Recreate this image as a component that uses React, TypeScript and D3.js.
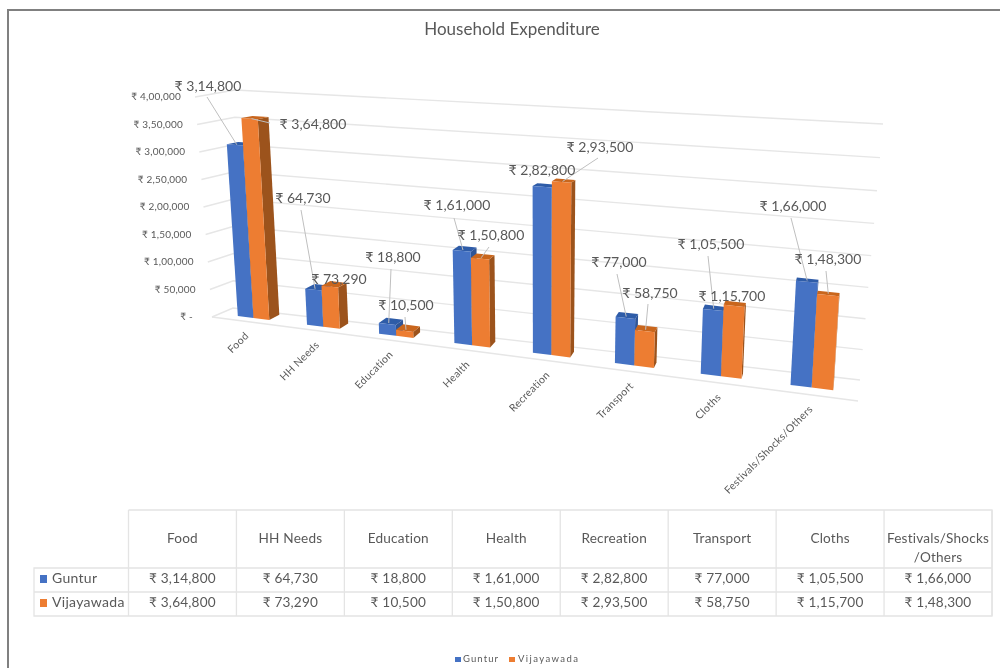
import React from "react";
import * as d3 from "d3";

const categories = ["Food", "HH Needs", "Education", "Health", "Recreation", "Transport", "Cloths", "Festivals/Shocks/Others"];
const guntur = [314800, 64730, 18800, 161000, 282800, 77000, 105500, 166000];
const vijayawada = [364800, 73290, 10500, 150800, 293500, 58750, 115700, 148300];
const guntilabels = ["₹ 3,14,800", "₹ 64,730", "₹ 18,800", "₹ 1,61,000", "₹ 2,82,800", "₹ 77,000", "₹ 1,05,500", "₹ 1,66,000"];
const vijayalabels = ["₹ 3,64,800", "₹ 73,290", "₹ 10,500", "₹ 1,50,800", "₹ 2,93,500", "₹ 58,750", "₹ 1,15,700", "₹ 1,48,300"];
const tickValues = [0, 50000, 100000, 150000, 200000, 250000, 300000, 350000, 400000];
const tickLabels = ["₹ -", "₹ 50,000", "₹ 1,00,000", "₹ 1,50,000", "₹ 2,00,000", "₹ 2,50,000", "₹ 3,00,000", "₹ 3,50,000", "₹ 4,00,000"];

// hand-placed data label layout: label centre, leader start (null = no leader)
const gunturLabelPos = [[208, 86, 207, 97], [303, 198, 301, 210], [393, 257, 391, 269], [457, 205, 454, 218], [542, 170], [619, 262, 617, 274], [711, 244, 708, 256], [793, 206, 791, 218]];
const vijayaLabelPos = [[313, 124, 270, 123], [339, 279], [406, 305, 405, 317], [491, 235, 489, 247], [600, 147, 598, 158], [650, 293, 648, 304], [732, 296], [828, 259, 826, 271]];

const BLUE = { front: "#4472c4", top: "#2f5ba8", side: "#2f5597" };
const ORANGE = { front: "#ed7d31", top: "#c9661f", side: "#9c531b" };
const FONT = "Lato, Carlito, 'Noto Sans', sans-serif";
const TEXT = "#595959";
const GRID = "#e6e6e6";
const TABLE = "#e4e4e4";

const valueNorm = d3.scaleLinear().domain([0, 400000]).range([0, 1]);
const catU = d3.scaleLinear().domain([0, categories.length]).range([0, 1]);
const tableX = d3.scaleBand<string>().domain(categories).range([128.5, 992]);
const rowY = d3.scalePoint<string>().domain(["Guntur", "Vijayawada"]).range([580, 604]);

const warp = (u: number) => (u * 0.84) / (1 - u + u * 0.84);
const lerp = (a: number, b: number, t: number) => a + (b - a) * t;

// floor point: u along the categories, d front to back
function floor(u: number, d: number): [number, number] {
  const t = warp(u);
  const xF = lerp(212, 858, t), yF = lerp(317, 401, t);
  const xB = lerp(233, 860, t), yB = lerp(308, 380, t);
  return [lerp(xF, xB, d), lerp(yF, yB, d)];
}
// raise a floor point by a value
function raise(p: [number, number], v: number, shrink = 1): [number, number] {
  const h = (v / 1000) * (0.545 + (p[0] - 233) * 0.000149) * shrink;
  return [p[0] + h * (p[0] - 540) * 0.000211, p[1] - h];
}
const pts = (a: [number, number][]) => a.map((p) => p.map((n) => n.toFixed(1)).join(",")).join(" ");

function bar(i: number, from: number, to: number, v: number, c: typeof BLUE, key: string) {
  const uL = catU(i + from), uR = catU(i + to);
  const dF = 0.36;
  const dBack = (u: number) => 0.9 - 0.32 * warp(u);
  const fl = floor(uL, dF), fr = floor(uR, dF);
  const bl = floor(uL, dBack(uL)), br = floor(uR, dBack(uR));
  const S = 0.982;
  const ftl = raise(fl, v), ftr = raise(fr, v), btl = raise(bl, v, S), btr = raise(br, v, S);
  return (
    <g key={key}>
      <polygon points={pts([fr, br, btr, ftr])} fill={c.side} />
      <polygon points={pts([ftl, ftr, btr, btl])} fill={c.top} />
      <polygon points={pts([fl, fr, ftr, ftl])} fill={c.front} />
    </g>
  );
}
const barTop = (i: number, from: number, to: number, v: number) => raise(floor(catU(i + (from + to) / 2), 0.45), v, 0.995);

function wall(vNorm: number) {
  const fl: [number, number] = [212 - 17 * vNorm, 317 - 220 * vNorm];
  const bl: [number, number] = [233 + 2 * vNorm, 308 - 218 * vNorm];
  const warpV = (vNorm + 0.06 * vNorm * vNorm) / 1.06;
  const br: [number, number] = [860 + 23 * warpV, 380 - 256 * warpV];
  return { fl, bl, br };
}

export default function App() {
  const n = categories.length;
  return (
    <svg width={1000} height={668} viewBox="0 0 1000 668" style={{ position: "fixed", left: 0, top: 0, background: "#fff" }} fontFamily={FONT}>
      <defs>
        <filter id="soft" x="0" y="0" width="1000" height="668" filterUnits="userSpaceOnUse">
          <feGaussianBlur stdDeviation="0.6" />
        </filter>
      </defs>
      <path d="M1000 10H8V668" fill="none" stroke="#808080" strokeWidth={2} />
      <g filter="url(#soft)">
        <text x={512} y={35} textAnchor="middle" fontSize={17} fill={TEXT}>Household Expenditure</text>

        {tickValues.map((v, i) => {
          const { fl, bl, br } = wall(valueNorm(v));
          return (
            <g key={v}>
              <polyline points={pts([fl, bl, br])} fill="none" stroke={GRID} strokeWidth={1.4} />
              <text x={fl[0] - (v === 0 ? 19 : 14)} y={fl[1] + 3} textAnchor="end" fontSize={10} letterSpacing={0.2} fill={TEXT}>{tickLabels[i]}</text>
            </g>
          );
        })}
        <line x1={212} y1={317} x2={858} y2={401} stroke={GRID} strokeWidth={1.4} />

        {categories.map((c, i) => {
          const [x, y] = floor(catU(i + 0.5), 0);
          return (
            <text key={c} transform={`translate(${x + 3},${y + 15}) rotate(-45)`} textAnchor="end" fontSize={10.5} letterSpacing={0.3} fill={TEXT}>{c}</text>
          );
        })}

        {categories.map((c, i) => (
          <g key={c}>
            {bar(i, 0.27, 0.5, guntur[i], BLUE, "g")}
            {bar(i, 0.5, 0.73, vijayawada[i], ORANGE, "v")}
          </g>
        ))}

        {categories.map((c, i) => {
          const g = gunturLabelPos[i], w = vijayaLabelPos[i];
          const gt = barTop(i, 0.27, 0.5, guntur[i]), wt = barTop(i, 0.5, 0.73, vijayawada[i]);
          return (
            <g key={c} fontSize={14} fill={TEXT}>
              {g.length > 2 && <line x1={g[2]} y1={g[3]} x2={gt[0]} y2={gt[1]} stroke="#bfbfbf" />}
              {w.length > 2 && <line x1={w[2]} y1={w[3]} x2={wt[0]} y2={wt[1]} stroke="#bfbfbf" />}
              <text x={g[0]} y={g[1] + 5} textAnchor="middle">{guntilabels[i]}</text>
              <text x={w[0]} y={w[1] + 5} textAnchor="middle">{vijayalabels[i]}</text>
            </g>
          );
        })}

        <g stroke={TABLE} strokeWidth={1.3} fill="none">
          <path d="M128.5 510H992V616H34V568H992M34 592H992M34 568V616" />
          <path d="M128.5 510V616" />
          {categories.map((c) => <line key={c} x1={tableX(c)! + tableX.bandwidth()} x2={tableX(c)! + tableX.bandwidth()} y1={510} y2={616} />)}
        </g>
        {categories.map((c, i) => {
          const cx = tableX(c)! + tableX.bandwidth() / 2;
          const parts = i === n - 1 ? ["Festivals/Shocks", "/Others"] : [c];
          return (
            <g key={c} fontSize={13.6} fill={TEXT} textAnchor="middle" letterSpacing={0.2}>
              {parts.map((p, k) => <text key={p} x={cx} y={542.5 + k * 19}>{p}</text>)}
              <text x={cx} y={rowY("Guntur")! + 3}>{guntilabels[i]}</text>
              <text x={cx} y={rowY("Vijayawada")! + 3}>{vijayalabels[i]}</text>
            </g>
          );
        })}
        {(["Guntur", "Vijayawada"] as const).map((s, i) => (
          <g key={s}>
            <rect x={40} y={rowY(s)! - 5} width={7} height={8} fill={i ? ORANGE.front : BLUE.front} />
            <text x={52} y={rowY(s)! + 3} fontSize={14} letterSpacing={0.3} fill={TEXT}>{s}</text>
          </g>
        ))}

        <rect x={455} y={657} width={6} height={5} fill={BLUE.front} />
        <text x={463} y={662} fontSize={9.5} letterSpacing={1.1} fill={TEXT}>Guntur</text>
        <rect x={509} y={657} width={6} height={5} fill={ORANGE.front} />
        <text x={518} y={662} fontSize={9.5} letterSpacing={1.4} fill={TEXT}>Vijayawada</text>
      </g>
    </svg>
  );
}
